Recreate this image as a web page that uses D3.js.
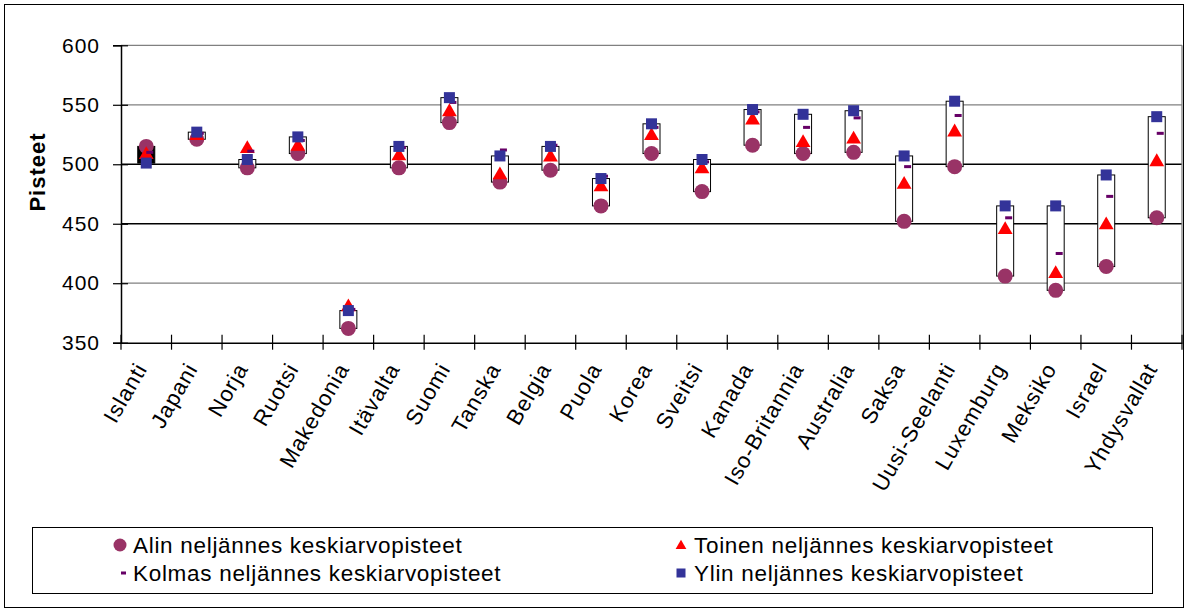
<!DOCTYPE html>
<html><head><meta charset="utf-8">
<script src="https://cdn.jsdelivr.net/npm/d3@7"></script>
<style>
html,body{margin:0;padding:0;background:#fff;}
svg{display:block;font-family:"Liberation Sans",Arial,sans-serif;}
</style></head><body>
<svg id="c" width="1188" height="610"></svg>
<script>
const categories = ["Islanti","Japani","Norja","Ruotsi","Makedonia","Itävalta","Suomi","Tanska","Belgia","Puola","Korea","Sveitsi","Kanada","Iso-Britannia","Australia","Saksa","Uusi-Seelanti","Luxemburg","Meksiko","Israel","Yhdysvallat"];
const alin   = [515,521,497,509,362,497,535,485,495,465,509,477,516,509,510,452,498,406,394,414,455];
const toinen = [508,524,513,515,380,507,544,491,506,481,524,496,537,518,521,483,527,445,408,449,502];
const kolmas = [510,526,511,520,378,514,552,512,516,490,531,502,544,531,539,498,541,455,425,473,526];
const ylin   = [501,527,504,523,377,515,556,507,515,488,534,504,546,542,545,507,553,465,465,491,540];
const yTicks = [350,400,450,500,550,600];
const seriesNames = ["Alin neljännes keskiarvopisteet","Toinen neljännes keskiarvopisteet","Kolmas neljännes keskiarvopisteet","Ylin neljännes keskiarvopisteet"];
const yTitle = "Pisteet";

const svg = d3.select("#c");
const L = 121, R = 1182, T = 45.3, B = 342.7;
const x = d3.scaleBand().domain(categories).range([L, R]);
const y = d3.scaleLinear().domain([350, 600]).range([B, T]);
const cx = c => x(c) + x.bandwidth() / 2;

// outer frame
svg.append("rect").attr("x", 4.5).attr("y", 4.5).attr("width", 1179).attr("height", 603)
  .attr("fill", "none").attr("stroke", "#000").attr("stroke-width", 1);

// gridlines
const gridCol = v => (v === 500 || v === 450) ? "#000" : "#808080";
svg.append("g").selectAll("line").data(yTicks.filter(v => v > 350)).join("line")
  .attr("x1", L).attr("x2", R).attr("y1", d => y(d)).attr("y2", d => y(d))
  .attr("stroke", gridCol).attr("stroke-width", 1.3);
// right border
svg.append("line").attr("x1", R).attr("x2", R).attr("y1", T).attr("y2", B)
  .attr("stroke", "#808080").attr("stroke-width", 1.3);

// y axis
const ya = svg.append("g").attr("transform", `translate(${L},0)`)
  .call(d3.axisLeft(y).tickValues(yTicks).tickSize(8).tickPadding(13));
ya.select(".domain").attr("stroke", "#000").attr("stroke-width", 1.5);
ya.selectAll(".tick line").attr("x1", 7).attr("x2", -8).attr("stroke", "#000").attr("stroke-width", 1.2);
ya.selectAll(".tick text").attr("font-size", 21).attr("letter-spacing", 1).attr("fill", "#000")
  .attr("font-family", "'Liberation Sans',Arial,sans-serif");

// x axis
const xa = svg.append("g").attr("transform", `translate(0,${B})`)
  .call(d3.axisBottom(x).tickSize(0));
xa.select(".domain").attr("stroke", "#000").attr("stroke-width", 1.5);
xa.selectAll(".tick text").attr("font-size", 22).attr("letter-spacing", 1).attr("fill", "#000")
  .attr("font-family", "'Liberation Sans',Arial,sans-serif")
  .attr("text-anchor", "end").attr("x", 0).attr("y", 0).attr("dy", "0.35em")
  .attr("transform", "translate(-5,22) rotate(-60)");
const bounds = d3.range(categories.length + 1).map(i => L + i * x.step());
xa.append("g").selectAll("line").data(bounds).join("line")
  .attr("x1", d => d).attr("x2", d => d).attr("y1", -8).attr("y2", 7)
  .attr("stroke", "#000").attr("stroke-width", 1.2);

// y title
svg.append("text").attr("transform", `translate(45,172) rotate(-90)`)
  .attr("text-anchor", "middle").attr("font-size", 22).attr("font-weight", "bold")
  .attr("letter-spacing", 1).text(yTitle);

// data
const rows = categories.map((c, i) => ({c, a: alin[i], t: toinen[i], k: kolmas[i], y: ylin[i]}));
const bw = 17;
svg.append("g").selectAll("rect").data(rows).join("rect")
  .attr("x", d => cx(d.c) - bw / 2).attr("width", bw)
  .attr("y", d => y(Math.max(d.a, d.y))).attr("height", d => Math.abs(y(d.a) - y(d.y)))
  .attr("fill", d => d.y >= d.a ? "#fff" : "#000").attr("stroke", "#000").attr("stroke-width", 1);

const circleCol = "#993366", triCol = "#ff0000", dashCol = "#660066", sqCol = "#333399";
svg.append("g").selectAll("circle").data(rows).join("circle")
  .attr("cx", d => cx(d.c)).attr("cy", d => y(d.a)).attr("r", 7.5).attr("fill", circleCol);
const tri = d3.symbol().type(d3.symbolTriangle).size(95);
svg.append("g").selectAll("path").data(rows).join("path")
  .attr("d", tri).attr("transform", d => `translate(${cx(d.c)},${y(d.t)})`).attr("fill", triCol);
svg.append("g").selectAll("rect").data(rows).join("rect")
  .attr("x", d => cx(d.c)).attr("y", d => y(d.k) - 1.5).attr("width", 7).attr("height", 3)
  .attr("fill", dashCol);
svg.append("g").selectAll("rect").data(rows).join("rect")
  .attr("x", d => cx(d.c) - 5.5).attr("y", d => y(d.y) - 5.5).attr("width", 11).attr("height", 11)
  .attr("fill", sqCol);

// legend
svg.append("rect").attr("x", 32.5).attr("y", 527.5).attr("width", 1120).attr("height", 66)
  .attr("fill", "#fff").attr("stroke", "#000").attr("stroke-width", 1);
const lg = svg.append("g").attr("font-size", 22.5).attr("letter-spacing", 0.7);
const legPos = [[120, 545], [681, 545], [120, 573], [681, 573]];
lg.append("circle").attr("cx", legPos[0][0]).attr("cy", legPos[0][1]).attr("r", 6.5).attr("fill", circleCol);
lg.append("path").attr("d", d3.symbol().type(d3.symbolTriangle).size(50))
  .attr("transform", `translate(${legPos[1][0]},${legPos[1][1] + 1})`).attr("fill", triCol);
lg.append("rect").attr("x", legPos[2][0] + 1).attr("y", legPos[2][1] - 1.5).attr("width", 5).attr("height", 3).attr("fill", dashCol);
lg.append("rect").attr("x", legPos[3][0] - 4.5).attr("y", legPos[3][1] - 4.5).attr("width", 9).attr("height", 9).attr("fill", sqCol);
lg.selectAll("text").data(seriesNames).join("text")
  .attr("x", (d, i) => legPos[i][0] + 13).attr("y", (d, i) => legPos[i][1]).attr("dy", "0.35em")
  .text(d => d);
</script>
</body></html>
